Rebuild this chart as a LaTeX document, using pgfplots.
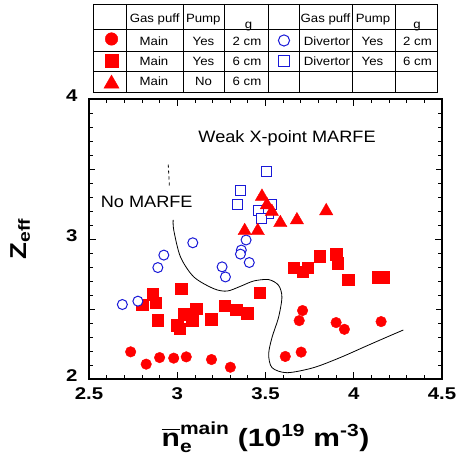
\documentclass[border=0pt]{standalone}
\usepackage{fontspec}
\setmainfont{Liberation Sans}[FakeStretch=1.1]
\newfontfamily\widefont{Liberation Sans}[FakeStretch=1.2]
\usepackage{amsmath}
\usepackage{pgfplots}
\pgfplotsset{compat=1.18}
\definecolor{myred}{RGB}{255,0,0}
\definecolor{myblue}{RGB}{25,25,215}

\begin{document}
\begin{tikzpicture}[x=1pt,y=1pt]
\path[use as bounding box] (0,0) rectangle (460,455);
\begin{axis}[
  at={(89pt,76pt)}, anchor=south west,
  width=353pt, height=280pt, scale only axis,
  xmin=2.5, xmax=4.5, ymin=2, ymax=4,
  xtick={2.5,3,3.5,4,4.5}, ytick={2,3,4},
  minor x tick num=4, minor y tick num=9,
  extra y ticks={2.5,3.5}, extra y tick labels={},
  extra y tick style={major tick length=6pt},
  major tick length=7pt, minor tick length=4pt,
  tick align=inside,
  axis line style={line width=1.2pt},
  every tick/.style={black, line width=0.8pt},
  tick label style={font=\fontsize{17}{17}\selectfont\widefont\bfseries},
  /pgf/number format/assume math mode=true,
  xticklabel style={yshift=-5pt},
  yticklabel style={xshift=-8pt, yshift=3pt},
  clip=false,
  xlabel={$\overline{\text{n}}_{\text{e}}^{\text{main}}$ (10\textsuperscript{19} m\textsuperscript{-3})},
  xlabel style={font=\fontsize{25}{25}\selectfont\widefont\bfseries, at={(axis description cs:0.5,-0.207)}, anchor=center},
  ylabel={Z\textsubscript{eff}},
  ylabel style={font=\fontsize{23}{23}\selectfont\widefont\bfseries, at={(axis description cs:-0.195,0.5)}, anchor=center},
]
% red filled circles
\addplot[only marks, mark=*, mark size=5.3pt, color=myred, mark options={fill=myred, draw=myred}] coordinates {
(2.736,2.194) (2.824,2.106) (2.900,2.153) (2.980,2.149) (3.051,2.158)
(3.194,2.139) (3.301,2.084) (3.612,2.161) (3.702,2.192) (3.691,2.417)
(3.710,2.489) (3.900,2.403) (3.947,2.355) (4.155,2.410)
};
% red filled squares
\addplot[only marks, mark=square*, mark size=5.8pt, color=myred, mark options={fill=myred, draw=myred}] coordinates {
(2.802,2.530) (2.862,2.604) (2.877,2.545) (2.890,2.422) (3.022,2.645)
(3.041,2.465) (2.999,2.386) (3.014,2.358) (3.084,2.422) (3.107,2.501)
(3.194,2.429) (3.269,2.525) (3.333,2.494) (3.395,2.470) (3.467,2.617)
(3.659,2.796) (3.710,2.765) (3.738,2.796) (3.806,2.878) (3.900,2.890)
(3.908,2.825) (3.970,2.710) (4.136,2.729) (4.168,2.729)
};
% blue open circles
\addplot[only marks, mark=*, mark size=5pt, color=myblue, mark options={fill=white, draw=myblue, line width=1pt}] coordinates {
(2.689,2.532) (2.777,2.556) (2.890,2.796) (2.924,2.885) (3.088,2.973)
(3.254,2.801) (3.273,2.729) (3.363,2.921) (3.358,2.892) (3.390,2.993)
(3.408,2.832)
};
% blue open squares
\addplot[only marks, mark=square*, mark size=5pt, color=myblue, mark options={fill=white, draw=myblue, line width=1pt}] coordinates {
(3.508,3.480) (3.358,3.345) (3.339,3.245) (3.533,3.245) (3.518,3.185)
(3.461,3.201) (3.480,3.149)
};
% red filled triangles
\addplot[only marks, mark=triangle*, mark size=7.7pt, color=myred, mark options={fill=myred, draw=myred}] coordinates {
(3.480,3.303) (3.508,3.243) (3.536,3.195) (3.584,3.115) (3.678,3.135)
(3.844,3.200) (3.382,3.058) (3.456,3.058)
};
% boundary curve (solid)
\addplot[black, line width=0.8pt, smooth, tension=0.5, mark=none] coordinates {
(2.977,3.137) (2.980,3.065) (3.018,2.873) (3.094,2.729) (3.207,2.645)
(3.282,2.628) (3.358,2.662) (3.433,2.700) (3.518,2.710) (3.574,2.669)
(3.593,2.585) (3.574,2.441) (3.537,2.297) (3.518,2.178) (3.537,2.081)
(3.622,2.045) (3.772,2.081) (3.923,2.153) (4.074,2.237) (4.205,2.309)
(4.281,2.350)
};
% boundary curve (dashed part)
\addplot[black, line width=0.8pt, dash pattern=on 3pt off 3pt, mark=none] coordinates {
(2.949,3.532) (2.956,3.365)
};
% legend table symbols
\addplot[only marks, mark=*, mark size=6.3pt, color=myred, mark options={fill=myred}, forget plot] coordinates {(2.6275,4.4286)};
\addplot[only marks, mark=square*, mark size=6.6pt, color=myred, mark options={fill=myred}, forget plot] coordinates {(2.6275,4.2714)};
\addplot[only marks, mark=triangle*, mark size=8.7pt, color=myred, mark options={fill=myred}, forget plot] coordinates {(2.6275,4.109)};
\addplot[only marks, mark=*, mark size=5.6pt, color=myblue, mark options={fill=white, draw=myblue, line width=1pt}, forget plot] coordinates {(3.6048,4.418)};
\addplot[only marks, mark=square*, mark size=5.6pt, color=myblue, mark options={fill=white, draw=myblue, line width=1pt}, forget plot] coordinates {(3.6048,4.2714)};

\node[font=\fontsize{16.5}{16.5}\selectfont, anchor=center] at (axis cs:3.622,3.72) {Weak X-point MARFE};
\node[font=\fontsize{16.5}{16.5}\selectfont, anchor=center] at (axis cs:2.827,3.263) {No MARFE};
\end{axis}

% table grid
\begin{scope}[line width=0.6pt]
\foreach \yy in {451,425.7,403.3,383.3} \draw (93.3,\yy) -- (437.7,\yy);
\foreach \xx in {93.3,126.7,183.3,224.3,268.3,299.3,352.7,395} \draw (\xx,451) -- (\xx,362.3);
\end{scope}
\draw[line width=1.3pt] (93.3,362.3) -- (437.7,362.3) -- (437.7,451);
\begin{scope}[every node/.style={font=\fontsize{12}{12}\selectfont, anchor=base, inner sep=0pt}]
\node at (154.7,432.5) {Gas puff};
\node at (203.3,432.5) {Pump};
\node at (248.5,426.8) {g};
\node at (325.5,432.5) {Gas puff};
\node at (373,432.5) {Pump};
\node at (417,426.8) {g};
\node at (154,409.3) {Main};
\node at (203.5,409.3) {Yes};
\node at (247,409.3) {2 cm};
\node at (327,409.3) {Divertor};
\node at (372.5,409.3) {Yes};
\node at (417.5,409.3) {2 cm};
\node at (154,389.3) {Main};
\node at (203.5,389.3) {Yes};
\node at (247,389.3) {6 cm};
\node at (327,389.3) {Divertor};
\node at (372.5,389.3) {Yes};
\node at (417.5,389.3) {6 cm};
\node at (154,369) {Main};
\node at (203.5,369) {No};
\node at (247,369) {6 cm};
\end{scope}
\end{tikzpicture}
\end{document}
